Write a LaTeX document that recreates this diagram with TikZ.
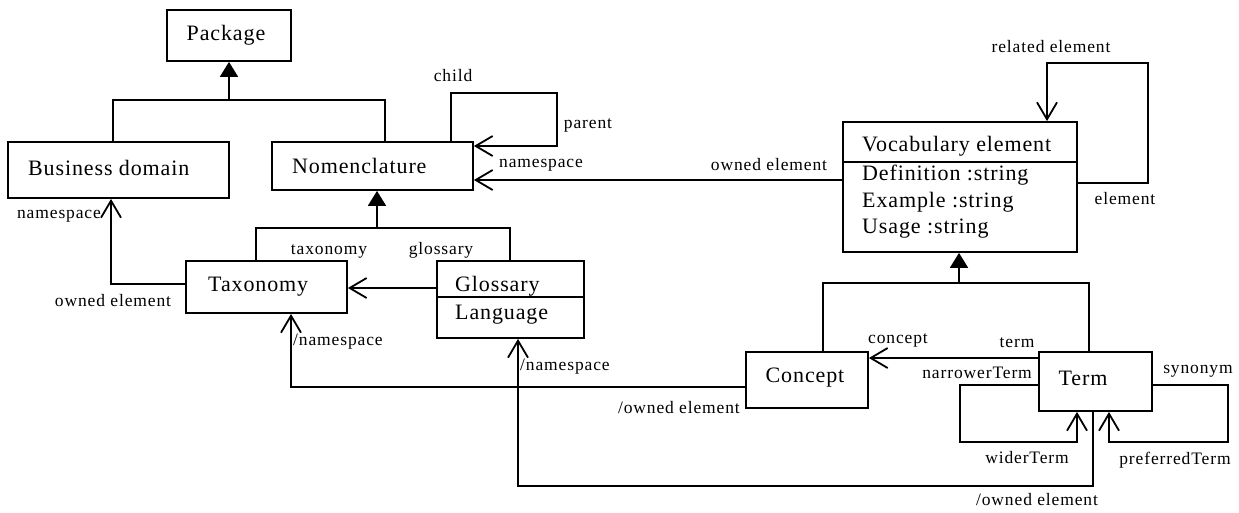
\documentclass[tikz,border=0pt]{standalone}
\usepackage{fontspec}
\setmainfont{Liberation Serif}
\newfontfamily\boxfont[LetterSpace=4]{Liberation Serif}
\newfontfamily\lblfont[LetterSpace=5]{Liberation Serif}
\usetikzlibrary{arrows.meta}
\tikzset{
  box/.style={draw, line width=1.8pt, inner sep=0pt},
  btxt/.style={font=\boxfont\fontsize{22}{26}\selectfont, inner sep=0pt},
  lbl/.style={font=\lblfont\fontsize{17.5}{20}\selectfont, inner sep=0pt},
  conn/.style={line width=1.8pt},
  assoc/.style={line width=1.8pt, -{Straight Barb[length=17pt,width=20pt]}},
  gen/.style={line width=1.8pt, -{Triangle[length=15pt,width=18pt]}}
}
\begin{document}
\begin{tikzpicture}[x=1pt,y=-1pt]
\useasboundingbox (0,0) rectangle (1239,512);
% boxes
\node[box, minimum width=124pt, minimum height=51pt] (pkg) at (229,35.5) {};
\node[box, minimum width=221pt, minimum height=56pt] (bd) at (118.5,170) {};
\node[box, minimum width=201pt, minimum height=48pt] (nom) at (372.5,166) {};
\node[box, minimum width=161pt, minimum height=52pt] (tax) at (266.5,287) {};
\node[box, minimum width=147pt, minimum height=77pt] (glo) at (510.5,299.5) {};
\node[box, minimum width=234pt, minimum height=130pt] (voc) at (960,187) {};
\node[box, minimum width=122pt, minimum height=56pt] (con) at (807,380) {};
\node[box, minimum width=113pt, minimum height=59pt] (term) at (1095.5,381.5) {};
% dividers
\coordinate (gd) at (0,297);
\coordinate (vd) at (0,162);
\draw[conn] (glo.west |- gd) -- (glo.east |- gd);
\draw[conn] (voc.west |- vd) -- (voc.east |- vd);
% box texts
\node[btxt] (tpkg) at (226,35) {Package};
\node[btxt, anchor=west] (tbd) at (28,168) {Business domain};
\node[btxt, anchor=west] (tnom) at (292,166) {Nomenclature};
\node[btxt, anchor=west] (ttax) at (208,287) {Taxonomy};
\node[btxt, anchor=west] (tglo) at (455,286) {Glossary};
\node[btxt, anchor=west] (tlang) at (455,315) {Language};
\node[btxt, anchor=west] (tvoc) at (862,146) {Vocabulary element};
\node[btxt, anchor=west] (tdef) at (862,175) {Definition :string};
\node[btxt, anchor=west] (tex) at (862,202) {Example :string};
\node[btxt, anchor=west] (tuse) at (862,229) {Usage :string};
\node[btxt] (tcon) at (805,378) {Concept};
\node[btxt] (tterm) at (1083,378) {Term};
% generalization Package
\coordinate (g1a) at (113,100);
\coordinate (g1b) at (385,100);
\draw[conn] (g1a |- bd.north) -- (g1a) -- (g1b) -- (g1b |- nom.north);
\draw[gen] (g1a -| pkg) -- (pkg.south);
% generalization Nomenclature
\coordinate (g2a) at (256,228);
\coordinate (g2b) at (510,228);
\coordinate (g2s) at (377,228);
\draw[conn] (g2a |- tax.north) -- (g2a) -- (g2b) -- (g2b |- glo.north);
\draw[gen] (g2s) -- (g2s |- nom.south);
% generalization Vocabulary element
\coordinate (g3a) at (823,283);
\coordinate (g3b) at (1089,283);
\coordinate (g3s) at (959,283);
\draw[conn] (g3a |- con.north) -- (g3a) -- (g3b) -- (g3b |- term.north);
\draw[gen] (g3s) -- (g3s |- voc.south);
% Nomenclature self loop
\coordinate (nA) at (451,93);
\coordinate (nB) at (557,146);
\draw[assoc] (nom.north -| nA) -- (nA) -| (nB) -- (nom.east |- nB);
% Vocabulary -> Nomenclature
\coordinate (y180) at (0,180);
\draw[assoc] (voc.west |- y180) -- (nom.east |- y180);
% Vocabulary self loop
\coordinate (vA) at (1047,63);
\coordinate (vB) at (1148,183);
\draw[assoc] (voc.east |- vB) -- (vB) |- (vA) -- (voc.north -| vA);
% Glossary -> Taxonomy
\coordinate (y288) at (0,288);
\draw[assoc] (glo.west |- y288) -- (tax.east |- y288);
% Taxonomy -> Business domain
\coordinate (c1) at (111,284);
\draw[assoc] (tax.west |- c1) -| (bd.south -| c1);
% Concept -> Taxonomy
\coordinate (c2) at (291,387);
\draw[assoc] (con.west |- c2) -| (tax.south -| c2);
% Term -> Glossary
\coordinate (c3) at (1093,486);
\coordinate (c4) at (518,486);
\draw[assoc] (term.south -| c3) |- (c4) -- (glo.south -| c4);
% Term -> Concept
\coordinate (y358) at (0,358);
\draw[assoc] (term.west |- y358) -- (con.east |- y358);
% narrower/wider loop
\coordinate (t1) at (960,385);
\coordinate (t2) at (1077,442);
\draw[assoc] (term.west |- t1) -- (t1) |- (t2) -- (term.south -| t2);
% synonym loop
\coordinate (s1) at (1228,385);
\coordinate (s2) at (1109,442);
\draw[assoc] (term.east |- s1) -- (s1) |- (s2) -- (term.south -| s2);
% labels
\node[lbl] (lchild) at (453,76) {child};
\node[lbl] (lparent) at (588,125) {parent};
\node[lbl] (lns1) at (541,165) {namespace};
\node[lbl] (low1) at (769,165) {owned element};
\node[lbl] (lrel) at (1051,47) {related element};
\node[lbl] (lel) at (1125,199) {element};
\node[lbl] (lns2) at (59,216) {namespace};
\node[lbl] (low2) at (113,301) {owned element};
\node[lbl] (ltax) at (329,251) {taxonomy};
\node[lbl] (lglo) at (441,250) {glossary};
\node[lbl, anchor=west] (lns3) at (293,342) {/namespace};
\node[lbl, anchor=west] (lns4) at (520,367) {/namespace};
\node[lbl, anchor=east] (low3) at (740,408) {/owned element};
\node[lbl] (lcon) at (898,340) {concept};
\node[lbl] (lterm) at (1017,343) {term};
\node[lbl, anchor=east] (lnar) at (1032,373) {narrowerTerm};
\node[lbl] (lsyn) at (1198,371) {synonym};
\node[lbl] (lwid) at (1027,458) {widerTerm};
\node[lbl] (lpref) at (1175,460) {preferredTerm};
\node[lbl] (low4) at (1037,500) {/owned element};
\end{tikzpicture}
\end{document}
